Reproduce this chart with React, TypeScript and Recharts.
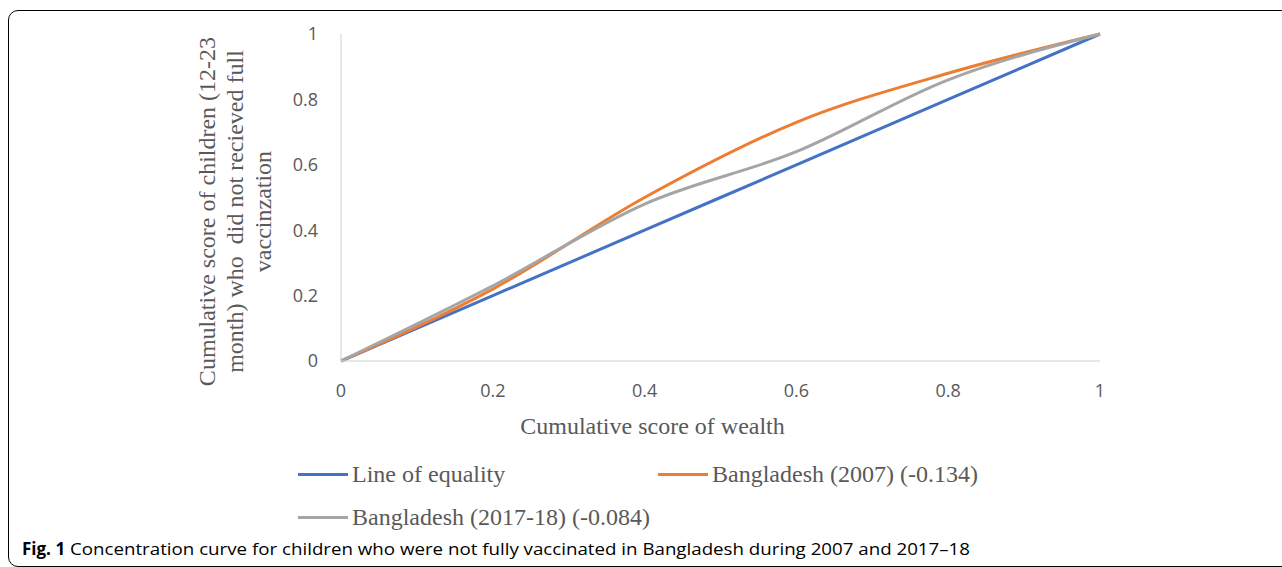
import { LineChart, Line, XAxis, YAxis, Legend } from 'recharts';

// cumulative share of wealth (quintile points)
const wealthShare = [0, 0.2, 0.4, 0.6, 0.8, 1];
const equality = [0, 0.2, 0.4, 0.6, 0.8, 1];
const bd2007 = [0, 0.22, 0.5, 0.73, 0.88, 1];
const bd2017 = [0, 0.23, 0.48, 0.64, 0.86, 1];
const ticks = [0, 0.2, 0.4, 0.6, 0.8, 1];

const seriesNames = ['Line of equality', 'Bangladesh (2007) (-0.134)', 'Bangladesh (2017-18) (-0.084)'];
const colors = ['#4472C4', '#ED7D31', '#A5A5A5'];

const yTitle = ['Cumulative score of children (12-23', 'month) who  did not recieved full', 'vaccinzation'];
const xTitle = 'Cumulative score of wealth';

const SERIF = '"Liberation Serif", "Times New Roman", serif';
const SANS = '"Open Sans", "Noto Sans", sans-serif';
const TEXT_GREY = '#595959';

const data = wealthShare.map((w, i) => ({
  w,
  equality: equality[i],
  bd2007: bd2007[i],
  bd2017: bd2017[i],
}));

function YTitle({ viewBox }: any) {
  const cx = viewBox.x - 66;
  const cy = viewBox.y + viewBox.height / 2 + 14;
  return (
    <text
      x={cx}
      y={cy}
      transform={`rotate(-90, ${cx}, ${cy})`}
      textAnchor="middle"
      fontFamily={SERIF}
      fontSize={24}
      fill={TEXT_GREY}
      style={{ whiteSpace: 'pre' }}
    >
      {yTitle.map((t, i) => (
        <tspan key={i} x={cx} dy={i === 0 ? 0 : 28}>
          {t}
        </tspan>
      ))}
    </text>
  );
}

function XTitle({ viewBox }: any) {
  return (
    <text
      x={viewBox.x + viewBox.width / 2 - 68}
      y={viewBox.y + 73}
      textAnchor="middle"
      fontFamily={SERIF}
      fontSize={24}
      fill={TEXT_GREY}
    >
      {xTitle}
    </text>
  );
}

function LegendBox({ payload }: any) {
  const pos = [
    { left: 298, top: 0 },
    { left: 658, top: 0 },
    { left: 298, top: 43 },
  ];
  const items = [...(payload || [])].sort(
    (a: any, b: any) => seriesNames.indexOf(a.value) - seriesNames.indexOf(b.value)
  );
  return (
    <div style={{ position: 'relative', height: 70 }}>
      {items.map((p: any, i: number) => (
        <div
          key={p.value}
          style={{ position: 'absolute', left: pos[i].left, top: pos[i].top, display: 'flex', alignItems: 'center', whiteSpace: 'nowrap' }}
        >
          <div style={{ width: 50, height: 3, background: p.color, marginRight: 4 }} />
          <span style={{ fontFamily: SERIF, fontSize: 24, color: TEXT_GREY, lineHeight: '28px' }}>{p.value}</span>
        </div>
      ))}
    </div>
  );
}

export default function App() {
  return (
    <div style={{ position: 'fixed', left: 0, top: 0, width: 1282, height: 567, overflow: 'hidden', background: '#fff' }}>
      <div
        style={{
          position: 'absolute',
          left: 8,
          top: 10,
          width: 1320,
          height: 557,
          boxSizing: 'border-box',
          border: '1px solid #000',
          borderRadius: 10,
        }}
      />
      <div style={{ position: 'absolute', left: 0, top: 0 }}>
        <LineChart width={1282} height={540} data={data} margin={{ top: 34, right: 182, left: 281, bottom: 69 }}>
          <XAxis
            dataKey="w"
            type="number"
            domain={[0, 1]}
            ticks={ticks}
            tickLine={false}
            tickMargin={17}
            height={40}
            stroke="#d0d0d0"
            tick={{ fill: TEXT_GREY, fontSize: 18, fontFamily: SANS }}
            label={{ content: <XTitle /> }}
          />
          <YAxis
            type="number"
            domain={[0, 1]}
            ticks={ticks}
            tickLine={false}
            tickMargin={17}
            width={60}
            stroke="#d0d0d0"
            tick={{ fill: TEXT_GREY, fontSize: 18, fontFamily: SANS }}
            label={{ content: <YTitle /> }}
          />
          <Legend
            content={<LegendBox />}
            wrapperStyle={{ position: 'absolute', left: 0, top: 460, width: 1282 }}
          />
          <Line type="monotone" dataKey="equality" name={seriesNames[0]} stroke={colors[0]} strokeWidth={3} dot={false} isAnimationActive={false} />
          <Line type="monotone" dataKey="bd2007" name={seriesNames[1]} stroke={colors[1]} strokeWidth={3} dot={false} isAnimationActive={false} />
          <Line type="monotone" dataKey="bd2017" name={seriesNames[2]} stroke={colors[2]} strokeWidth={3} dot={false} isAnimationActive={false} />
        </LineChart>
      </div>
      <svg style={{ position: 'absolute', left: 0, top: 0 }} width={1282} height={567}>
        <text x={22} y={555} fontFamily={SANS} fontSize={17} fill="#000">
          <tspan fontWeight="bold">Fig. 1</tspan>
          <tspan x={70} textLength={900} lengthAdjust="spacingAndGlyphs">
            Concentration curve for children who were not fully vaccinated in Bangladesh during 2007 and 2017–18
          </tspan>
        </text>
      </svg>
    </div>
  );
}
